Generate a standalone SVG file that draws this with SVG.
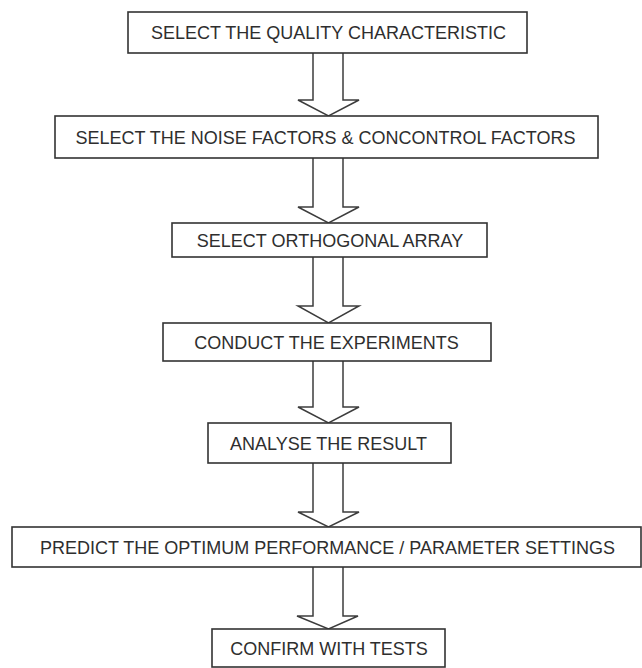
<svg xmlns="http://www.w3.org/2000/svg" width="642" height="668" viewBox="0 0 642 668">
<style>
.box{fill:#fff;stroke:#333;stroke-width:1.6}
.lbl{font-family:"Liberation Sans",Arial,sans-serif;font-size:18px;fill:#2e2e2e;text-anchor:middle}
.arr{fill:#fff;stroke:#3c3c3c;stroke-width:1.5;stroke-linejoin:miter}
</style>
<rect width="642" height="668" fill="#fff"/>
<g id="connectors">
<polyline class="arr" points="313,53 313,100 298,100 328.5,116 359,100 343,100 343,53"/>
<polyline class="arr" points="313,158 313,207 298,207 328.5,223 359,207 343,207 343,158"/>
<polyline class="arr" points="313,257 313,306 298,306 328.5,323 359,306 343,306 343,257"/>
<polyline class="arr" points="313,361 313,407 298,407 328.5,423 359,407 343,407 343,361"/>
<polyline class="arr" points="313,463 313,512 298,512 328.5,527 359,512 343,512 343,463"/>
<polyline class="arr" points="313,567 313,616 297,616 328.5,629 358,616 343,616 343,567"/>
</g>
<g id="n1"><rect class="box" x="128" y="12" width="399" height="41"/><text class="lbl" x="328.5" y="39">SELECT THE QUALITY CHARACTERISTIC</text></g>
<g id="n2"><rect class="box" x="55" y="116" width="543" height="42"/><text class="lbl" x="325.5" y="143.5">SELECT THE NOISE FACTORS &amp; CONCONTROL FACTORS</text></g>
<g id="n3"><rect class="box" x="172" y="223" width="315" height="34"/><text class="lbl" x="330" y="246.5">SELECT ORTHOGONAL ARRAY</text></g>
<g id="n4"><rect class="box" x="163" y="323" width="328" height="38"/><text class="lbl" x="326.5" y="348.5">CONDUCT THE EXPERIMENTS</text></g>
<g id="n5"><rect class="box" x="208" y="423" width="243" height="40"/><text class="lbl" x="328.5" y="449.5">ANALYSE THE RESULT</text></g>
<g id="n6"><rect class="box" x="12" y="527" width="629" height="40"/><text class="lbl" x="327.5" y="553.5">PREDICT THE OPTIMUM PERFORMANCE / PARAMETER SETTINGS</text></g>
<g id="n7"><rect class="box" x="212" y="629" width="233" height="38"/><text class="lbl" x="329" y="654.5">CONFIRM WITH TESTS</text></g>
</svg>
